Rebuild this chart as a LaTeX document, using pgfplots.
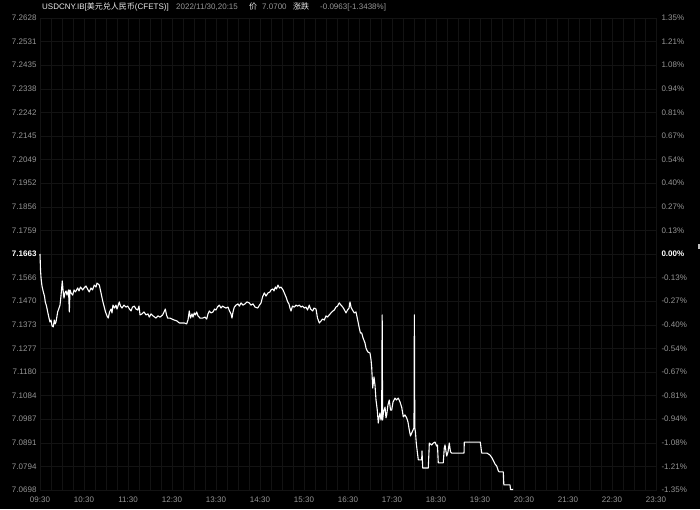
\documentclass[border=0pt]{standalone}
\usepackage{fontspec}
\setmainfont{Liberation Sans}
\newfontfamily\cjk{Noto Sans CJK SC}
\usepackage{pgfplots}
\usepackage{pgfplotstable}
\pgfplotsset{compat=1.18}
\definecolor{bg}{RGB}{0,0,0}
\definecolor{gridc}{RGB}{19,19,19}
\definecolor{lab}{RGB}{150,150,150}
\definecolor{ttl}{RGB}{235,235,235}

% minutes after 09:30, price
\pgfplotstableread{
m p
0 7.1663
0.7 7.1598
1.4 7.1565
2.7 7.1532
4.5 7.1508
6.1 7.1491
7.2 7.1467
8.9 7.1450
10.5 7.1426
12.3 7.1401
13.6 7.1385
15.0 7.1393
16.4 7.1369
18.1 7.1365
19.5 7.1393
20.7 7.1377
21.8 7.1385
24.1 7.1426
25.9 7.1442
27.3 7.1454
28.6 7.1491
30.4 7.1553
31.4 7.1516
32.7 7.1483
34.1 7.1504
35.5 7.1512
36.8 7.1495
38.9 7.1516
40.0 7.1426
40.9 7.1516
42.3 7.1504
44.6 7.1495
46.4 7.1516
48.4 7.1508
51.4 7.1524
53.2 7.1512
55.2 7.1528
58.2 7.1516
60.0 7.1524
62.7 7.1532
64.8 7.1520
67.2 7.1508
69.5 7.1524
71.6 7.1516
74.0 7.1536
76.4 7.1528
77.7 7.1544
80.9 7.1536
83.2 7.1504
85.5 7.1471
87.3 7.1450
89.3 7.1426
91.4 7.1410
93.1 7.1401
94.8 7.1426
96.8 7.1438
98.2 7.1422
99.5 7.1454
101.6 7.1442
103.6 7.1454
105.0 7.1438
106.4 7.1450
108.1 7.1467
109.8 7.1450
111.8 7.1442
114.5 7.1454
117.3 7.1446
119.6 7.1450
122.0 7.1438
124.1 7.1430
126.1 7.1446
128.6 7.1450
130.9 7.1438
133.2 7.1434
135.0 7.1450
136.4 7.1414
139.1 7.1418
141.8 7.1426
144.5 7.1414
147.3 7.1418
149.0 7.1405
151.4 7.1418
154.1 7.1410
158.2 7.1401
160.9 7.1410
163.6 7.1405
167.3 7.1414
169.1 7.1426
170.9 7.1438
172.5 7.1414
174.1 7.1401
177.3 7.1401
180.0 7.1397
183.1 7.1393
186.8 7.1389
190.0 7.1381
193.6 7.1381
196.8 7.1381
200.0 7.1377
201.8 7.1393
203.6 7.1430
205.2 7.1401
207.3 7.1418
208.6 7.1405
210.4 7.1422
212.0 7.1414
213.7 7.1426
215.5 7.1410
218.2 7.1401
221.9 7.1401
225.0 7.1405
227.3 7.1397
229.1 7.1418
230.9 7.1430
233.2 7.1422
235.9 7.1426
238.0 7.1438
240.0 7.1434
242.0 7.1446
244.5 7.1454
246.8 7.1442
248.9 7.1450
250.9 7.1446
253.6 7.1442
256.4 7.1446
258.4 7.1430
260.5 7.1418
261.8 7.1401
263.2 7.1426
265.0 7.1446
267.3 7.1454
270.0 7.1459
272.0 7.1450
274.1 7.1463
276.8 7.1454
279.5 7.1459
282.3 7.1467
285.4 7.1463
287.7 7.1454
290.5 7.1459
293.2 7.1446
296.9 7.1442
299.3 7.1454
301.4 7.1463
303.4 7.1487
305.9 7.1504
308.2 7.1491
310.9 7.1504
313.6 7.1508
315.0 7.1516
317.7 7.1520
319.1 7.1512
320.9 7.1528
322.5 7.1520
324.5 7.1536
326.6 7.1524
328.6 7.1528
331.4 7.1516
333.1 7.1504
335.5 7.1487
337.8 7.1467
339.5 7.1459
340.9 7.1442
342.3 7.1430
344.3 7.1450
346.8 7.1446
349.1 7.1454
351.1 7.1450
353.6 7.1454
355.9 7.1446
358.0 7.1450
360.4 7.1442
362.7 7.1446
364.8 7.1434
367.2 7.1454
368.9 7.1438
371.9 7.1430
373.6 7.1442
376.4 7.1438
378.4 7.1401
380.9 7.1381
383.2 7.1389
385.2 7.1397
387.7 7.1393
390.0 7.1410
392.0 7.1405
394.5 7.1414
396.8 7.1422
399.5 7.1430
401.3 7.1434
403.6 7.1446
405.7 7.1450
408.1 7.1463
410.5 7.1454
412.8 7.1446
414.5 7.1438
417.3 7.1422
419.3 7.1434
421.4 7.1442
422.7 7.1467
424.1 7.1446
426.1 7.1434
428.6 7.1422
430.9 7.1426
433.2 7.1393
435.4 7.1360
437.0 7.1340
438.7 7.1340
440.5 7.1320
443.2 7.1299
444.5 7.1279
445.5 7.1271
447.3 7.1262
450.0 7.1258
451.4 7.1230
452.3 7.1201
453.7 7.1115
455.5 7.1160
456.8 7.1127
458.2 7.1066
459.9 7.1025
461.3 7.0972
462.3 7.0993
463.6 7.1013
465.0 7.0984
465.9 7.0993
466.6 7.1414
467.2 7.0984
468.4 7.1017
470.5 7.1037
471.8 7.0993
472.8 7.1005
474.5 7.1046
476.3 7.1066
478.0 7.1025
479.6 7.1025
481.4 7.1058
484.1 7.1074
486.1 7.1066
488.6 7.1074
490.9 7.1058
493.2 7.1037
495.4 7.0997
497.7 7.1005
500.0 7.0993
501.8 7.0976
503.6 7.0943
505.2 7.0919
506.9 7.0931
508.6 7.0943
510.0 7.0952
510.5 7.1414
511.1 7.0952
512.0 7.0935
513.1 7.0890
514.5 7.0854
515.9 7.0821
520.5 7.0821
520.9 7.0858
521.9 7.0788
529.5 7.0788
530.9 7.0890
534.1 7.0882
536.3 7.0890
538.6 7.0894
540.9 7.0878
542.0 7.0882
543.1 7.0809
549.9 7.0809
551.3 7.0870
552.3 7.0882
554.6 7.0837
556.4 7.0854
558.1 7.0890
559.8 7.0854
561.4 7.0849
578.2 7.0849
578.6 7.0894
600.4 7.0894
602.3 7.0849
609.5 7.0849
613.6 7.0841
616.4 7.0829
619.1 7.0813
620.5 7.0804
622.8 7.0796
625.0 7.0776
626.3 7.0772
631.8 7.0772
632.5 7.0719
640.9 7.0719
641.6 7.0700
645.0 7.0700
}\usdcny

\pgfplotsset{
  frame/.style={
    at={(40pt,19pt)}, anchor=south west,
    scale only axis, width=616pt, height=472pt,
    xmin=0, xmax=840, ymin=7.0698, ymax=7.2628,
    ytick={7.0698,7.07945,7.0891,7.09875,7.1084,7.11805,7.1277,7.13735,7.1470,7.15665,7.1663,7.17595,7.1856,7.19525,7.2049,7.21455,7.2242,7.23385,7.2435,7.25315,7.2628},
    tick label style={font=\fontsize{8}{9}\selectfont, text=lab},
    major tick length=0pt, minor tick length=0pt,
  }
}

\begin{document}
\begin{tikzpicture}[x=1pt,y=1pt]
\fill[bg] (0,0) rectangle (700,509);
\begin{axis}[frame,
  xtick={0,60,...,840},
  xticklabels={09:30,10:30,11:30,12:30,13:30,14:30,15:30,16:30,17:30,18:30,19:30,20:30,21:30,22:30,23:30},
  xticklabel style={yshift=-3pt},
  minor x tick num=3,
  grid=both,
  major grid style={gridc, line width=0.4pt},
  minor grid style={gridc, line width=0.4pt},
  axis line style={gridc, line width=0.4pt},
  yticklabels={7.0698,7.0794,7.0891,7.0987,7.1084,7.1180,7.1277,7.1373,7.1470,7.1566,{\color{white}\bfseries 7.1663},7.1759,7.1856,7.1952,7.2049,7.2145,7.2242,7.2338,7.2435,7.2531,7.2628},
  clip=false,
]
\addplot[white, line width=1.1pt, line join=round] table[x=m, y=p] {\usdcny};
\end{axis}
\begin{axis}[frame,
  axis y line*=right, axis x line=none,
  axis line style={draw=none},
  yticklabel style={xshift=2pt},
  yticklabels={-1.35\%,-1.21\%,-1.08\%,-0.94\%,-0.81\%,-0.67\%,-0.54\%,-0.40\%,-0.27\%,-0.13\%,{\color{white}\bfseries 0.00\%},0.13\%,0.27\%,0.40\%,0.54\%,0.67\%,0.81\%,0.94\%,1.08\%,1.21\%,1.35\%},
]
\end{axis}
\begin{scope}[every node/.style={inner sep=0pt, anchor=base west, font=\fontsize{8}{9}\selectfont}]
\node[text=ttl] at (42,499) {USDCNY.IB[{\cjk 美元兑人民币}(CFETS)]};
\node[text=lab] at (176,499) {2022/11/30,20:15};
\node[text=ttl] at (249,499) {\cjk 价};
\node[text=lab] at (262,499) {7.0700};
\node[text=ttl] at (293,499) {\cjk 涨跌};
\node[text=lab] at (320,499) {-0.0963[-1.3438\%]};
\end{scope}
\fill[white!75!black] (698,260) rectangle (700,265);
\end{tikzpicture}
\end{document}
